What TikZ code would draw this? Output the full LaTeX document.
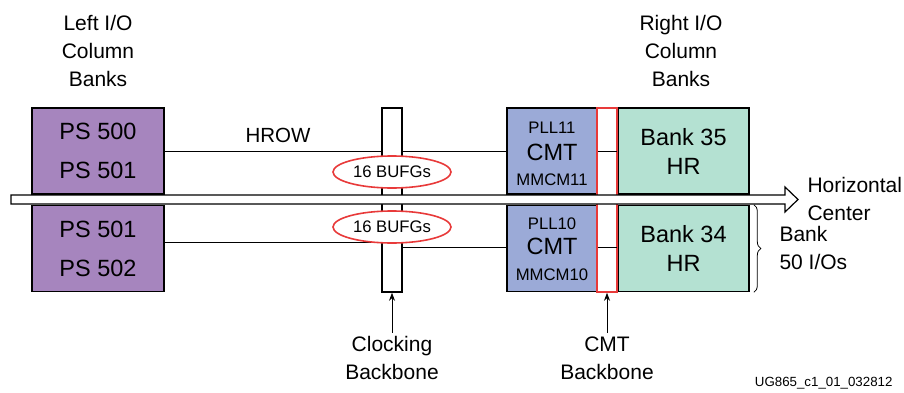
\documentclass[tikz,border=0pt]{standalone}
\usepackage{fontspec}
\setmainfont{Liberation Sans}
\usepackage{xcolor}
\definecolor{psPurple}{RGB}{166,133,190}
\definecolor{cmtBlue}{RGB}{155,170,215}
\definecolor{hrGreen}{RGB}{180,225,210}
\definecolor{bufRed}{RGB}{232,58,58}
\usetikzlibrary{positioning,arrows.meta,calc,shapes.geometric,decorations.pathreplacing}

\begin{document}
\begin{tikzpicture}[x=1pt,y=-1pt,
  ps/.style={draw,line width=1.6pt,fill=psPurple,minimum width=132,minimum height=86,
    inner sep=0,align=center,font=\fontsize{23.5}{39}\selectfont},
  cmt/.style={draw,line width=1.6pt,fill=cmtBlue,minimum width=90,minimum height=86,inner sep=0},
  hr/.style={draw,line width=1.6pt,fill=hrGreen,minimum width=131,minimum height=86,
    inner sep=0,align=center,font=\fontsize{23.5}{29}\selectfont},
  bb/.style={draw,line width=1.6pt,fill=white,minimum width=20,minimum height=184,inner sep=0},
  buf/.style={ellipse,draw=bufRed,line width=1.6pt,fill=white,minimum width=118,
    minimum height=32,inner sep=0,font=\fontsize{16.7}{20}\selectfont},
  lbl/.style={align=center,font=\fontsize{21}{28}\selectfont},
  sm/.style={font=\fontsize{16.7}{20}\selectfont},
  big/.style={font=\fontsize{23.5}{28}\selectfont},
  hrow/.style={line width=0.8pt},
  a/.style={-{Stealth[length=8pt,width=6pt]},line width=0.8pt}]
  \useasboundingbox (0,0) rectangle (904,393);
  % column labels
  \node[lbl] (leftL) at (98,51) {Left I/O\\Column\\Banks};
  \node[lbl] (rightL) at (681,51) {Right I/O\\Column\\Banks};
  % left banks
  \node[ps] (psT) at (98,151) {PS 500\\PS 501};
  \node[ps] (psB) at (98,248.5) {PS 501\\PS 502};
  % right side
  \node[cmt] (cmtT) at (552,151) {};
  \node[cmt] (cmtB) at (552,248.5) {};
  \node[hr] (hrT) at (683.5,151) {Bank 35\\HR};
  \node[hr] (hrB) at (683.5,248.5) {Bank 34\\HR};
  \node[sm] (pllT) at ($(cmtT.center)+(0,-23)$) {PLL11};
  \node[big] (cT) at ($(cmtT.center)+(0,1)$) {CMT};
  \node[sm] (mmT) at ($(cmtT.center)+(0,29)$) {MMCM11};
  \node[sm] (pllB) at ($(cmtB.center)+(0,-25)$) {PLL10};
  \node[big] (cB) at ($(cmtB.center)+(0,-2)$) {CMT};
  \node[sm] (mmB) at ($(cmtB.center)+(0,26)$) {MMCM10};
  % HROW
  \draw[hrow] (psT.east) -- (cmtT.west);
  \draw[hrow] ($(psB.east)+(0,-6.5)$) -- (392,242);
  \draw[hrow] (392,247) -- ($(cmtB.west)+(0,-1.5)$);
  \node[font=\fontsize{20.5}{24}\selectfont] (hrowL) at (278,135) {HROW};
  % backbones
  \node[bb] (clk) at (392,200) {};
  \node[buf] (bufT) at (392,172) {16 BUFGs};
  \node[buf] (bufB) at (392,227) {16 BUFGs};
  \node[bb,draw=bufRed] (cmtbb) at (607,200) {};
  \draw[hrow] (cmtT.east) -- (hrT.west);
  \draw[hrow] ($(cmtB.east)+(0,-1.5)$) -- ($(hrB.west)+(0,-1.5)$);
  % horizontal center
  \coordinate (hc) at (798,199.5);
  \draw[line width=1.2pt,fill=white] (11,195) -- (785,195) -- (785,187) -- (hc)
    -- (785,212) -- (785,204) -- (11,204) -- cycle;
  \node[lbl,align=left,anchor=west] (hcL) at (804,199) {Horizontal\\Center};
  % bank brace
  \draw[line width=0.8pt,decorate,decoration={brace,amplitude=7}]
    ($(hrB.north east)+(4,0)$) -- ($(hrB.south east)+(4,0)$);
  \node[lbl,align=left,anchor=west] (bankL) at (776,248) {Bank\\50 I/Os};
  % bottom labels
  \node[lbl] (clkL) at (392,358) {Clocking\\Backbone};
  \node[lbl] (cmtL) at (607,358) {CMT\\Backbone};
  \draw[a] (clkL.north) -- (clk.south);
  \draw[a] (cmtL.north) -- (cmtbb.south);
  \node[font=\fontsize{13.3}{16}\selectfont,anchor=east] (ug) at (896,383) {UG865\_c1\_01\_032812};
\end{tikzpicture}
\end{document}
